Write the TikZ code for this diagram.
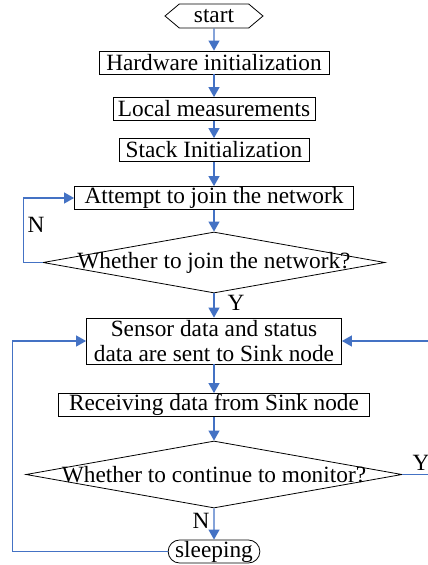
\documentclass[tikz,border=0pt]{standalone}
\usepackage{fontspec}
\setmainfont{Liberation Serif}
\usetikzlibrary{arrows.meta,shapes.geometric,shapes.symbols,shapes.misc}
\definecolor{flowblue}{RGB}{68,114,196}
\begin{document}
\begin{tikzpicture}[x=1pt,y=1pt,
  every node/.style={font=\fontsize{23.3}{25}\selectfont, inner sep=0pt},
  proc/.style={draw, line width=0.8pt, rectangle, minimum height=23},
  decide/.style={draw, line width=0.8pt, diamond},
  flow/.style={draw=flowblue, line width=1.1pt, -{Triangle[width=11pt,length=10pt]}}
]
\useasboundingbox (0,0) rectangle (428,-565);

% process steps
\node[draw, signal, signal to=west and east, signal pointer angle=80,
      minimum width=98, minimum height=24, line width=0.8pt] (start) at (214,-16) {start};
\node[proc, minimum width=230] (hw) at (214,-62.5) {Hardware initialization};
\node[proc, minimum width=202] (loc) at (214,-109) {Local measurements};
\node[proc, minimum width=190] (stk) at (214,-150) {Stack Initialization};
\node[proc, minimum width=279] (att) at (214,-198) {Attempt to join the network};
\node[decide, minimum width=342, minimum height=61] (d1) at (214,-262.5) {};
\node (d1t) at (d1) {Whether to join the network?};
\node[proc, minimum width=255, minimum height=46, align=center] (snd) at (214,-341)
  {Sensor data and status\\data are sent to Sink node};
\node[proc, minimum width=311] (rcv) at (214,-405) {Receiving data from Sink node};
\node[decide, minimum width=376, minimum height=67] (d2) at (214,-474.5) {};
\node (d2t) at (d2) {Whether to continue to monitor?};
\node[draw, rounded rectangle, minimum width=89, minimum height=23, line width=0.8pt]
  (slp) at (214,-551.5) {sleeping};

% main flow
\draw[flow] (start) -- (hw);
\draw[flow] (hw) -- (loc);
\draw[flow] (loc) -- (stk);
\draw[flow] (stk) -- (att);
\draw[flow] (att) -- (d1.north);
\draw[flow] (d1.south) -- (snd);
\draw[flow] (snd) -- (rcv);
\draw[flow] (rcv) -- (d2.north);
\draw[flow] (d2.south) -- (slp);

% loops back
\draw[flow] (d1.west) -- ++(-19,0) |- (att.west);
\draw[flow] (slp.west) -- ++(-155.5,0) |- (snd.west);
\draw[flow] (d2.east) -- ++(28,0) |- (snd.east);

% branch labels
\node (n1) at (36,-225) {N};
\node (y1) at (236,-303) {Y};
\node (y2) at (421,-463) {Y};
\node (n2) at (201,-521) {N};
\end{tikzpicture}
\end{document}
